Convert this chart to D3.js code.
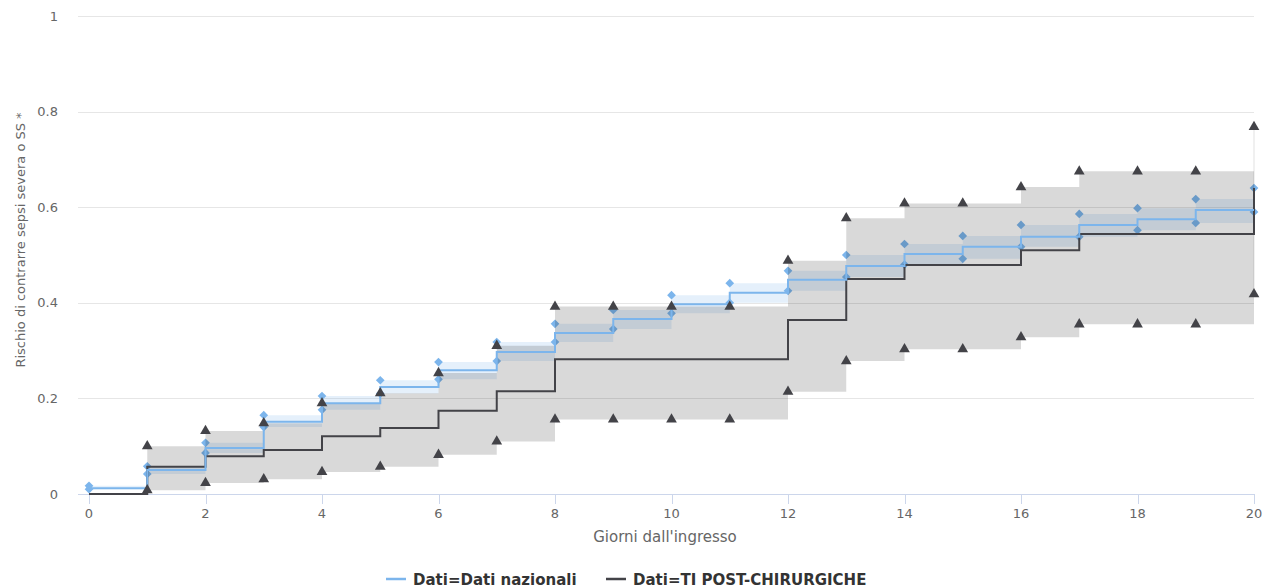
<!DOCTYPE html>
<html>
<head>
<meta charset="utf-8">
<script src="https://cdn.jsdelivr.net/npm/d3@7"></script>
<style>
  html, body { margin: 0; padding: 0; background: #fff; }
  svg { display: block; font-family: "DejaVu Sans", sans-serif; }
</style>
</head>
<body>
<svg id="chart" width="1276" height="587"></svg>
<script>
// ---- data ----
const days = [0,1,2,3,4,5,6,7,8,9,10,11,12,13,14,15,16,17,18,19,20];
const nazValue = [0.012,0.050,0.096,0.151,0.190,0.224,0.259,0.297,0.337,0.366,0.397,0.421,0.448,0.477,0.502,0.517,0.538,0.563,0.575,0.594,0.594];
const nazUpper = [0.017,0.058,0.107,0.165,0.205,0.238,0.276,0.318,0.356,0.385,0.416,0.441,0.467,0.500,0.523,0.540,0.563,0.586,0.598,0.617,0.640];
const nazLower = [0.010,0.042,0.086,0.140,0.176,0.210,0.240,0.278,0.318,0.345,0.378,0.400,0.425,0.454,0.480,0.492,0.517,0.538,0.552,0.567,0.590];
const tiValue  = [0.000,0.057,0.079,0.092,0.121,0.138,0.174,0.215,0.282,0.282,0.282,0.282,0.364,0.450,0.479,0.479,0.510,0.544,0.544,0.544,0.640];
const tiUpper  = [null,0.100,0.132,0.148,0.190,0.211,0.253,0.310,0.392,0.392,0.392,0.392,0.488,0.577,0.608,0.608,0.642,0.675,0.675,0.675,0.768];
const tiLower  = [null,0.008,0.023,0.031,0.046,0.057,0.082,0.110,0.156,0.156,0.156,0.156,0.214,0.278,0.303,0.303,0.328,0.355,0.355,0.355,0.418];
const yTicks = [0,0.2,0.4,0.6,0.8,1];
const xTicks = [0,2,4,6,8,10,12,14,16,18,20];
const seriesNames = ["Dati=Dati nazionali","Dati=TI POST-CHIRURGICHE"];
const colors = ["#7cb5ec","#434348"];

// ---- layout ----
const svg = d3.select("#chart");
const plotLeft = 78, plotRight = 1254, plotTop = 16, plotBottom = 494;
const x = d3.scaleLinear().domain([0,20]).range([89,1254]);
const y = d3.scaleLinear().domain([0,1]).range([plotBottom, plotTop]);

// gridlines
svg.append("g").selectAll("line").data(yTicks.filter(d => d > 0)).join("line")
  .attr("x1", plotLeft).attr("x2", plotRight)
  .attr("y1", d => Math.round(y(d)) + 0.5).attr("y2", d => Math.round(y(d)) + 0.5)
  .attr("stroke", "#e6e6e6").attr("stroke-width", 1);

// y labels
svg.append("g").selectAll("text").data(yTicks).join("text")
  .attr("x", 58).attr("y", d => y(d) + 4.5)
  .attr("text-anchor", "end").attr("fill", "#666").attr("font-size", 13)
  .text(d => d3.format("")(d));

// x axis line and ticks
svg.append("line").attr("x1", plotLeft).attr("x2", plotRight)
  .attr("y1", plotBottom + 0.5).attr("y2", plotBottom + 0.5)
  .attr("stroke", "#ccd6eb");
svg.append("g").selectAll("line").data(xTicks).join("line")
  .attr("x1", d => Math.round(x(d)) + 0.5).attr("x2", d => Math.round(x(d)) + 0.5)
  .attr("y1", plotBottom).attr("y2", plotBottom + 10)
  .attr("stroke", "#ccd6eb");
svg.append("g").selectAll("text").data(xTicks).join("text")
  .attr("x", d => x(d)).attr("y", 518)
  .attr("text-anchor", "middle").attr("fill", "#666").attr("font-size", 13)
  .text(d => d);

// axis titles
svg.append("text").attr("x", 665).attr("y", 542).attr("text-anchor", "middle")
  .attr("fill", "#666").attr("font-size", 15).text("Giorni dall'ingresso");
svg.append("text").attr("transform", "translate(25,240) rotate(-90)")
  .attr("text-anchor", "middle").attr("fill", "#666").attr("font-size", 13)
  .text("Rischio di contrarre sepsi severa o SS *");

const idx = days.map((d, i) => i);

// blue band
const nazArea = d3.area().curve(d3.curveStepAfter)
  .x(i => x(days[i])).y0(i => y(nazLower[i])).y1(i => y(nazUpper[i]));
svg.append("path").attr("d", nazArea(idx)).attr("fill", "#7cb5ec").attr("fill-opacity", 0.2);

// diamonds
const diamond = d3.symbol().type(d3.symbolSquare).size(38);
const diaPts = [];
idx.forEach(i => { diaPts.push([days[i], nazUpper[i]]); diaPts.push([days[i], nazLower[i]]); });
svg.append("g").selectAll("path").data(diaPts).join("path")
  .attr("d", diamond)
  .attr("transform", d => `translate(${x(d[0])},${y(d[1])}) rotate(45)`)
  .attr("fill", colors[0]);

// gray band (TI)
const tiIdx = idx.filter(i => tiUpper[i] !== null);
const tiArea = d3.area().curve(d3.curveStepAfter)
  .x(i => x(days[i])).y0(i => y(tiLower[i])).y1(i => y(tiUpper[i]));
svg.append("path").attr("d", tiArea(tiIdx)).attr("fill", "#000").attr("fill-opacity", 0.15);
// final whisker of gray band
const last = tiIdx[tiIdx.length - 1];
svg.append("line").attr("x1", x(days[last])).attr("x2", x(days[last]))
  .attr("y1", y(tiUpper[last])).attr("y2", y(tiLower[last]))
  .attr("stroke", "#000").attr("stroke-opacity", 0.12).attr("stroke-width", 1);

// black line
const tiLine = d3.line().curve(d3.curveStepAfter)
  .x(i => x(days[i])).y(i => y(tiValue[i]));
svg.append("path").attr("d", tiLine(idx)).attr("fill", "none")
  .attr("stroke", colors[1]).attr("stroke-width", 2);

// blue line
const nazLine = d3.line().curve(d3.curveStepAfter)
  .x(i => x(days[i])).y(i => y(nazValue[i]));
svg.append("path").attr("d", nazLine(idx)).attr("fill", "none")
  .attr("stroke", colors[0]).attr("stroke-width", 2);

// triangles
const tri = d3.symbol().type(d3.symbolTriangle).size(50);
const triPts = [];
tiIdx.forEach(i => { triPts.push([days[i], tiUpper[i]]); triPts.push([days[i], tiLower[i]]); });
svg.append("g").selectAll("path").data(triPts).join("path")
  .attr("d", tri)
  .attr("transform", d => `translate(${x(d[0])},${y(d[1])})`)
  .attr("fill", colors[1]);

// legend
const legendX = [386, 606];
const lg = svg.append("g").selectAll("g").data(seriesNames).join("g")
  .attr("transform", (d, i) => `translate(${legendX[i]},579)`);
lg.append("line").attr("x1", 0).attr("x2", 20).attr("y1", 0).attr("y2", 0)
  .attr("stroke", (d, i) => colors[i]).attr("stroke-width", 2.5);
lg.append("text").attr("x", 27).attr("y", 5.5).attr("font-size", 15)
  .attr("font-weight", "bold").attr("fill", "#333").text(d => d);
</script>
</body>
</html>
